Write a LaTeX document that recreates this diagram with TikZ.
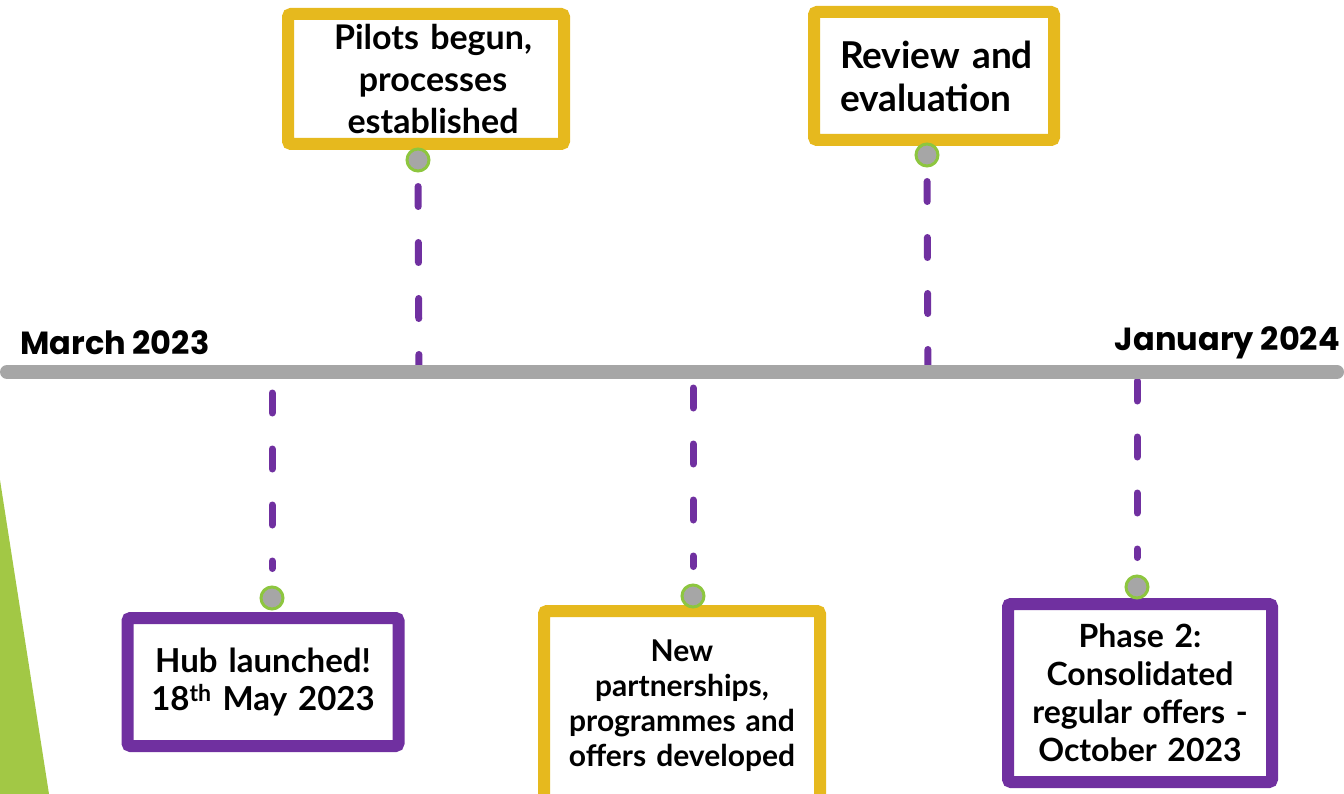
\documentclass[tikz,border=0pt]{standalone}
\usepackage{fontspec}
\setmainfont{Lato}
\newfontfamily\datefont{Poppins}
\definecolor{hubpurple}{HTML}{7030A0}
\definecolor{hubgold}{HTML}{E6B91E}
\definecolor{hubgreen}{HTML}{A2C845}
\definecolor{hubring}{HTML}{8DC63F}
\definecolor{hubgrey}{HTML}{A6A6A6}
\newcommand\boxfont[2]{\bfseries\fontsize{#1}{#2}\selectfont\spaceskip=0.2em}
\begin{document}
\begin{tikzpicture}[x=1pt, y=-1pt,
	goldbox/.style={draw=hubgold, line width=12pt, rounded corners=3pt, fill=white, align=center, inner sep=0pt},
	purplebox/.style={draw=hubpurple, line width=12pt, rounded corners=3pt, fill=white, align=center, inner sep=0pt},
	milestone/.style={circle, draw=hubring, line width=3pt, fill=hubgrey, minimum size=22pt, inner sep=0pt},
	link/.style={draw=hubpurple, line width=7pt, line cap=round, dash pattern=on 20pt off 36pt},
	datelabel/.style={font=\datefont\bfseries\fontsize{32}{34}\selectfont, inner sep=0pt}]

	\useasboundingbox (0,0) rectangle (1344,794);

	% green wedge at the left edge
	\fill [hubgreen] (0,480) -- (49,794) -- (0,794) -- cycle;

	% points on the timeline
	\coordinate (t1) at (272,372);
	\coordinate (t2) at (419,372);
	\coordinate (t3) at (693,372);
	\coordinate (t4) at (928,372);
	\coordinate (t5) at (1137,372);

	% boxes
	\node [goldbox, minimum width=276pt, minimum height=130pt, text width=260pt, font=\boxfont{34}{42}] (pilots) at (426,79) {\hspace*{14pt}Pilots begun,\\ \hspace*{14pt}processes\\ \hspace*{14pt}established};
	\node [goldbox, minimum width=240pt, minimum height=128pt, text width=210pt, align=left, font=\boxfont{37}{43}] (review) at (934,76) {\hspace*{11pt}Review and\\ \hspace*{11pt}evaluation};
	\node [purplebox, minimum width=271pt, minimum height=128pt, text width=260pt, font=\boxfont{33}{39}] (hub) at (263,682) {Hub launched!\\ 18\textsuperscript{th} May 2023};
	\node [goldbox, minimum width=276pt, minimum height=190pt, text width=270pt, font=\boxfont{30}{35}] (offers) at (682,706) {New\\ partnerships,\\ programmes and\\ offers developed};
	\node [purplebox, minimum width=264pt, minimum height=178pt, text width=260pt, font=\boxfont{32}{38}] (phase) at (1140,693) {Phase 2:\\ Consolidated\\ regular offers -\\ October 2023};

	% dots under / over the boxes
	\node [milestone] (d2) at (418,160) {};
	\node [milestone] (d4) at (927,155) {};
	\node [milestone] (d1) at (272,598) {};
	\node [milestone] (d3) at (693,596) {};
	\node [milestone] (d5) at (1137,587) {};

	\draw [link, shorten <=14pt] (d2) -- (t2);
	\draw [link, shorten <=14pt] (d4) -- (t4);
	\draw [link, shorten <=21pt, shorten >=17pt] (t1) -- (d1);
	\draw [link, shorten <=16pt, shorten >=17pt] (t3) -- (d3);
	\draw [link, shorten <=9pt, shorten >=17pt] (t5) -- (d5);

	% the timeline
	\coordinate (start) at (7,372);
	\coordinate (end) at (1337,372);
	\draw [hubgrey, line width=14pt, line cap=round] (start) -- (end);

	\node [datelabel, anchor=west] (from) at (20,343) {March 2023};
	\node [datelabel, anchor=east] (to) at (1340,343) {January 2024};

\end{tikzpicture}
\end{document}
